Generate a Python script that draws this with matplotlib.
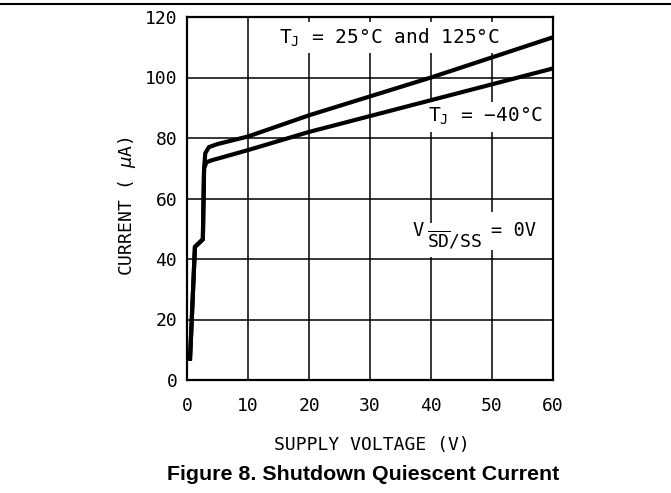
import matplotlib
matplotlib.use("Agg")
from matplotlib import pyplot as plt

# supply voltage (V) vs shutdown current (uA)
volts_hot = [0.5, 1.3, 2.6, 2.8, 3.0, 3.6, 5.0, 10, 20, 40, 60]
amps_hot = [7, 44, 46.5, 70, 75, 77, 78, 80.5, 87.5, 100, 113.3]

volts_cold = [0.5, 1.3, 2.6, 2.8, 3.2, 4.0, 10, 20, 40, 60]
amps_cold = [7, 44, 46.5, 70, 72, 72.6, 76, 82, 92.5, 103]

x_ticks = [0, 10, 20, 30, 40, 50, 60]
y_ticks = [0, 20, 40, 60, 80, 100, 120]

plt.rcParams['font.family'] = ['DejaVu Sans Mono', 'DejaVu Sans']


def main():
    fig = plt.figure(figsize=(6.71, 4.93), dpi=100)
    ax = fig.add_axes([187 / 671, 1 - 380 / 493, 366 / 671, 363 / 493])

    ax.plot(volts_hot, amps_hot, color='black', lw=3.0, zorder=5,
            solid_joinstyle='round')
    ax.plot(volts_cold, amps_cold, color='black', lw=3.0, zorder=5,
            solid_joinstyle='round')

    ax.set_xlim(0, 60)
    ax.set_ylim(0, 120)
    ax.set_xticks(x_ticks)
    ax.set_yticks(y_ticks)
    ax.tick_params(length=0, labelsize=13)
    ax.tick_params(axis='x', pad=12)
    ax.tick_params(axis='y', pad=7)
    ax.grid(True, color='black', lw=1.1, zorder=1)
    ax.set_axisbelow(True)
    for s in ax.spines.values():
        s.set_linewidth(1.6)

    ax.set_xlabel('SUPPLY VOLTAGE (V)', fontsize=13)
    ax.set_ylabel(r'CURRENT ( $\mu$A)', fontsize=13)
    ax.xaxis.set_label_coords(0.505, -0.155)
    ax.yaxis.set_label_coords(-0.135, 0.48)

    box = dict(facecolor='white', edgecolor='none', pad=3)
    ax.text(33.1, 113.2, r'T$_\mathregular{J}$ = 25°C and 125°C', fontsize=14,
            ha='center', va='center', bbox=box, zorder=3)
    ax.text(49.0, 87.0, r'T$_\mathregular{J}$ = −40°C', fontsize=14,
            ha='center', va='center', bbox=box, zorder=3)

    # V with an overlined SD/SS subscript, set in three pieces;
    # the subscript goes underneath so its box doesn't clip the others
    ax.text(39.4, 46.2, r'$\overline{\mathregular{SD}}\mathregular{/SS}$',
            fontsize=13, ha='left', va='center',
            bbox=dict(facecolor='white', edgecolor='none', pad=4), zorder=2.9)
    ax.text(37.9, 49.3, 'V', fontsize=13.5, ha='center', va='center',
            bbox=dict(facecolor='white', edgecolor='none', pad=1), zorder=3)
    ax.text(49.9, 49.3, '= 0V', fontsize=13.5, ha='left', va='center',
            bbox=dict(facecolor='white', edgecolor='none', pad=7), zorder=3)

    # rule across the top of the page
    fig.add_artist(plt.Line2D([0, 1], [1 - 4 / 493] * 2, color='black', lw=1.5))

    fig.text(363 / 671, 1 - 480 / 493, 'Figure 8. Shutdown Quiescent Current',
             family='Liberation Sans', weight='bold', fontsize=15.4,
             ha='center', va='baseline')

    fig.savefig('out.png', dpi=100)


main()
